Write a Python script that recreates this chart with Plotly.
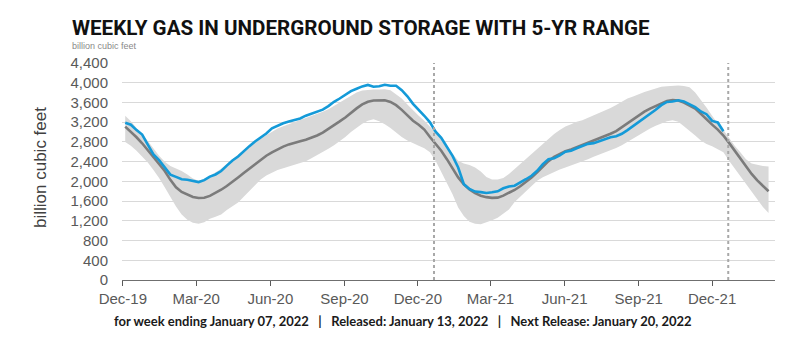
import plotly.graph_objects as go
import pandas as pd

# ---------------- data (Bcf) ----------------
first_week = "2019-12-27"          # weekly, week-ending Fridays
n_weeks_range = 115                 # 5-yr average / range run to early Mar-2022
n_weeks_actual = 107                # actual storage through Jan 07, 2022

actual = [3190, 3149, 3040, 2948, 2747, 2546, 2431, 2280, 2137, 2091,
          2043, 2034, 2005, 1986, 2024, 2097, 2140, 2210, 2319, 2422,
          2503, 2612, 2714, 2807, 2892, 2972, 3077, 3133, 3178, 3215,
          3241, 3274, 3332, 3375, 3420, 3455, 3525, 3614, 3680, 3756,
          3831, 3877, 3926, 3955, 3919, 3927, 3958, 3940, 3939, 3848,
          3725, 3573, 3460, 3330, 3196, 3009, 2881, 2689, 2518, 2281,
          1943, 1845, 1793, 1782, 1764, 1778, 1798, 1859, 1897, 1912,
          1972, 2043, 2114, 2215, 2350, 2450, 2470, 2525, 2600, 2620,
          2670, 2720, 2760, 2775, 2820, 2850, 2895, 2915, 2965, 3040,
          3120, 3200, 3290, 3361, 3453, 3546, 3611, 3618, 3644, 3622,
          3564, 3505, 3417, 3362, 3226, 3195, 3016]

five_yr_avg = [3110, 3008, 2894, 2772, 2637, 2501, 2366, 2211, 2030, 1880,
               1785, 1730, 1685, 1662, 1668, 1705, 1760, 1830, 1905, 2000,
               2080, 2170, 2260, 2350, 2440, 2520, 2590, 2650, 2705, 2750,
               2790, 2815, 2845, 2880, 2930, 2990, 3060, 3140, 3215, 3295,
               3390, 3480, 3560, 3615, 3640, 3650, 3645, 3610, 3545, 3450,
               3340, 3230, 3150, 3050, 2900, 2770, 2620, 2450, 2265, 2080,
               1940, 1835, 1760, 1710, 1680, 1665, 1670, 1710, 1770, 1825,
               1900, 1985, 2080, 2185, 2300, 2410, 2495, 2560, 2610, 2645,
               2690, 2735, 2775, 2815, 2865, 2910, 2965, 3020, 3100, 3190,
               3270, 3345, 3414, 3475, 3525, 3590, 3630, 3650, 3640, 3596,
               3540, 3475, 3370, 3250, 3150, 3050, 2930, 2780, 2620, 2460,
               2300, 2150, 2020, 1900, 1800]

five_yr_max = [3330, 3220, 3080, 2965, 2820, 2660, 2520, 2400, 2310, 2260,
               2210, 2140, 2060, 2010, 2050, 2110, 2175, 2255, 2350, 2445,
               2540, 2630, 2730, 2800, 2870, 2940, 3010, 3070, 3120, 3160,
               3200, 3240, 3280, 3320, 3370, 3410, 3460, 3530, 3600, 3670,
               3740, 3800, 3840, 3860, 3865, 3865, 3870, 3850, 3770, 3680,
               3560, 3440, 3330, 3230, 3120, 2990, 2850, 2700, 2550, 2420,
               2360, 2330, 2280, 2200, 2090, 2040, 2040, 2070, 2150, 2250,
               2360, 2450, 2560, 2660, 2770, 2870, 2960, 3040, 3110, 3160,
               3210, 3240, 3290, 3340, 3390, 3430, 3490, 3550, 3610, 3680,
               3720, 3770, 3810, 3850, 3890, 3920, 3930, 3940, 3945, 3935,
               3910, 3800, 3660, 3500, 3330, 3170, 3040, 2880, 2720, 2590,
               2450, 2360, 2330, 2310, 2300]

five_yr_min = [2800, 2720, 2620, 2510, 2380, 2230, 2070, 1880, 1680, 1490,
               1330, 1220, 1160, 1140, 1170, 1240, 1280, 1330, 1420, 1500,
               1570, 1690, 1800, 1930, 2040, 2120, 2180, 2230, 2265, 2300,
               2332, 2370, 2410, 2470, 2530, 2590, 2660, 2730, 2810, 2900,
               3000, 3090, 3170, 3230, 3260, 3220, 3160, 3080, 2990, 2900,
               2830, 2770, 2720, 2670, 2590, 2420, 2200, 1980, 1740, 1470,
               1300, 1180, 1140, 1130, 1165, 1210, 1260, 1340, 1430, 1580,
               1690, 1800, 1920, 2010, 2085, 2140, 2200, 2240, 2280, 2320,
               2360, 2405, 2450, 2500, 2540, 2580, 2625, 2675, 2730, 2800,
               2870, 2940, 3000, 3070, 3130, 3180, 3220, 3240, 3210, 3120,
               3030, 2930, 2830, 2760, 2710, 2650, 2590, 2420, 2260, 2110,
               1960, 1800, 1630, 1480, 1360]

x_tick_dates = ["2019-12-24", "2020-03-24", "2020-06-24", "2020-09-24", "2020-12-24",
                "2021-03-24", "2021-06-24", "2021-09-24", "2021-12-24"]
x_tick_labels = ["Dec-19", "Mar-20", "Jun-20", "Sep-20", "Dec-20",
                 "Mar-21", "Jun-21", "Sep-21", "Dec-21"]
y_tick_values = [0, 400, 800, 1200, 1600, 2000, 2400, 2800, 3200, 3600, 4000, 4400]
release_marks = ["2021-01-13", "2022-01-13"]

title_text = "WEEKLY GAS IN UNDERGROUND STORAGE WITH 5-YR RANGE"
footer_text = ("for week ending January 07, 2022\u00a0\u00a0\u00a0|\u00a0\u00a0\u00a0"
               "Released: January 13, 2022\u00a0\u00a0\u00a0|\u00a0\u00a0\u00a0"
               "Next Release: January 20, 2022")

# ---------------- figure ----------------
weeks = pd.date_range(first_week, periods=n_weeks_range, freq="7D")
actual_weeks = weeks[:n_weeks_actual]

BAND = "#d9d9d9"
AVG = "#7b7b7b"
BLUE = "#149ad8"
TXT = "#595959"
ARIAL = "Liberation Sans, Arial, sans-serif"

# page has an 8px body margin: figure sized so that it fills the 793x355 window
FIG_W, FIG_H = 777, 339
PLOT_L, PLOT_R, PLOT_T, PLOT_B = 114, 767, 55, 272

fig = go.Figure()
fig.add_trace(go.Scatter(x=weeks, y=five_yr_max, mode="lines",
                         line=dict(width=0, color=BAND), hoverinfo="skip",
                         showlegend=False))
fig.add_trace(go.Scatter(x=weeks, y=five_yr_min, mode="lines",
                         line=dict(width=0, color=BAND), fill="tonexty",
                         fillcolor=BAND, hoverinfo="skip", showlegend=False))
fig.add_trace(go.Scatter(x=weeks, y=five_yr_avg, mode="lines",
                         line=dict(width=2.6, color=AVG), showlegend=False))
fig.add_trace(go.Scatter(x=actual_weeks, y=actual, mode="lines",
                         line=dict(width=2.6, color=BLUE), showlegend=False))

for d in release_marks:
    fig.add_shape(type="line", xref="x", yref="paper", x0=d, x1=d, y0=0, y1=1,
                  line=dict(color="#a8a8a8", width=2, dash="dot"), layer="above")

pw = PLOT_R - PLOT_L
ph = PLOT_B - PLOT_T


def px(xwin):
    return (xwin - 8 - PLOT_L) / pw


def py(ywin):
    return (PLOT_B - (ywin - 8)) / ph


fig.update_layout(
    width=FIG_W, height=FIG_H,
    margin=dict(l=PLOT_L, r=FIG_W - PLOT_R, t=PLOT_T, b=FIG_H - PLOT_B),
    paper_bgcolor="white", plot_bgcolor="white",
    title=dict(text=title_text, xref="container", yref="container",
               x=(72 - 8) / FIG_W, xanchor="left", y=1 - (28 - 8) / FIG_H,
               yanchor="middle",
               font=dict(family="Roboto, sans-serif", size=20.6, color="#111111",
                         weight="bold")),
    xaxis=dict(type="date", range=["2019-12-23", "2022-03-12"],
               tickmode="array", tickvals=x_tick_dates, ticktext=x_tick_labels,
               ticks="outside", ticklen=5, tickcolor=TXT, tickwidth=1,
               showline=True, linecolor="#6f6f6f", linewidth=1,
               showgrid=False, zeroline=False,
               tickfont=dict(family=ARIAL, size=15, color=TXT)),
    yaxis=dict(range=[0, 4400], tickmode="array", tickvals=y_tick_values,
               tickformat=",", showgrid=True, gridcolor="#d9d9d9", gridwidth=1,
               zeroline=False, showline=False,
               ticks="outside", ticklen=10, tickcolor="rgba(0,0,0,0)",
               tickfont=dict(family=ARIAL, size=15, color=TXT)),
    annotations=[
        dict(text="billion cubic feet", xref="paper", yref="paper",
             x=px(40), y=py(168), textangle=-90, showarrow=False,
             xanchor="center", yanchor="middle",
             font=dict(family=ARIAL, size=17, color="#404040")),
        dict(text="billion cubic feet", xref="paper", yref="paper",
             x=px(70), y=py(46), showarrow=False,
             xanchor="left", yanchor="middle",
             font=dict(family=ARIAL, size=9, color="#8a8a8a")),
        dict(text=footer_text, xref="paper", yref="paper",
             x=px(403), y=py(321), showarrow=False,
             xanchor="center", yanchor="middle",
             font=dict(family="Lato, sans-serif", size=13, color="#1a1a1a",
                       weight="bold")),
    ],
)

fig.write_html("out.html")
